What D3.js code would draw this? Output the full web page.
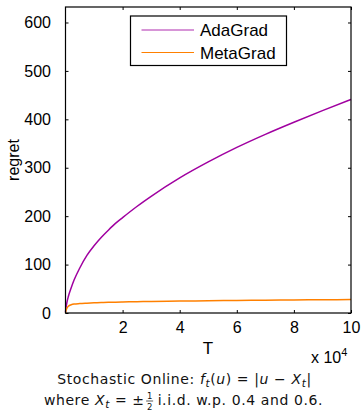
<!DOCTYPE html>
<html><head><meta charset="utf-8">
<script src="https://cdn.jsdelivr.net/npm/d3@7"></script>
<style>body{margin:0;background:#fff} svg{display:block}</style>
</head><body>
<script>
const T = [0, 200, 500, 1000, 2000, 3000, 5000, 7500, 10000, 12500, 15000, 17500, 20000, 25000, 30000, 40000, 50000, 60000, 70000, 80000, 90000, 100000];
const adaGrad = [2, 12, 22, 34, 52, 68, 93, 119, 139, 156, 171, 185, 197, 220, 241, 279, 312, 342, 369, 394, 418, 441];
const metaGrad = [0, 6, 10, 14, 17, 18.5, 19.5, 20.3, 21, 21.5, 22, 22.4, 22.7, 23.3, 23.8, 24.6, 25.3, 25.9, 26.4, 26.9, 27.3, 27.7];
const seriesNames = ["AdaGrad", "MetaGrad"];
const seriesColors = ["#a000a0", "#ff8000"];
const xTicks = [20000, 40000, 60000, 80000, 100000];
const yTicks = [0, 100, 200, 300, 400, 500, 600];

const W = 362, H = 412;
const svg = d3.select("body").append("svg").attr("width", W).attr("height", H);
const font = "'Liberation Sans', Arial, sans-serif";

const x = d3.scaleLinear().domain([0, 100000]).range([65.5, 351]);
const y = d3.scaleLinear().domain([0, 632]).range([313, 7]);

// lines
const series = [adaGrad, metaGrad];
const line = d3.line().x((d, i) => x(T[i])).y(d => y(d)).curve(d3.curveMonotoneX);
series.forEach((s, k) => {
  svg.append("path").datum(s).attr("d", line)
    .attr("fill", "none").attr("stroke", seriesColors[k]).attr("stroke-width", 1.5);
});

// axes
function styleAxis(g) {
  g.select(".domain").remove();
  g.selectAll(".tick line").attr("stroke", "#000");
  g.selectAll("text").attr("font-family", font).attr("font-size", 16).attr("fill", "#000");
}
svg.append("g").attr("transform", `translate(0,${y(0)})`)
  .call(d3.axisBottom(x).tickValues(xTicks).tickSize(-3).tickPadding(9).tickFormat(d => d / 1e4))
  .call(styleAxis);
svg.append("g").attr("transform", `translate(0,${y.range()[1]})`)
  .call(d3.axisTop(x).tickValues(xTicks).tickSize(-3).tickFormat(""))
  .call(styleAxis);
svg.append("g").attr("transform", `translate(${x(0)},0)`)
  .call(d3.axisLeft(y).tickValues(yTicks).tickSize(-3).tickPadding(14.5))
  .call(styleAxis);
svg.append("g").attr("transform", `translate(${x.range()[1]},0)`)
  .call(d3.axisRight(y).tickValues(yTicks).tickSize(-3).tickFormat(""))
  .call(styleAxis);

svg.append("rect").attr("x", x.range()[0]).attr("y", y.range()[1])
  .attr("width", x.range()[1] - x.range()[0]).attr("height", y.range()[0] - y.range()[1])
  .attr("fill", "none").attr("stroke", "#000").attr("stroke-width", 1.2);

// axis labels
svg.append("text").attr("x", 208).attr("y", 354).attr("text-anchor", "middle")
  .attr("font-family", font).attr("font-size", 17).text("T");
svg.append("text").attr("transform", `translate(19,${(y.range()[0] + y.range()[1]) / 2}) rotate(-90)`)
  .attr("text-anchor", "middle").attr("font-family", font).attr("font-size", 16).text("regret");
const ex = svg.append("text").attr("x", 311).attr("y", 363).attr("font-family", font).attr("font-size", 16);
ex.append("tspan").text("x 10");
ex.append("tspan").attr("dy", -7).attr("font-size", 11).text("4");

// legend
const lg = svg.append("g");
lg.append("rect").attr("x", 130.5).attr("y", 16).attr("width", 156).attr("height", 49.5)
  .attr("fill", "#fff").attr("stroke", "#000").attr("stroke-width", 1.2);
seriesNames.forEach((n, k) => {
  const yy = 30 + k * 22.5;
  lg.append("line").attr("x1", 141.5).attr("x2", 194).attr("y1", yy).attr("y2", yy)
    .attr("stroke", seriesColors[k]).attr("stroke-width", k === 0 ? 1.5 : 1.2)
    .attr("opacity", k === 0 ? 0.55 : 1);
  lg.append("text").attr("x", 200).attr("y", yy + 6).attr("font-family", font)
    .attr("font-size", 17).text(n);
});

// caption
const cfont = "'DejaVu Sans', sans-serif";
const cs = 14, ss = 10.5, ls = 0.6;
const c1 = svg.append("text").attr("x", 184.5).attr("y", 384).attr("text-anchor", "middle")
  .attr("font-family", cfont).attr("font-size", cs).attr("letter-spacing", ls).attr("fill", "#111");
c1.append("tspan").text("Stochastic Online: ");
c1.append("tspan").attr("font-style", "italic").text("f");
c1.append("tspan").attr("font-style", "italic").attr("font-size", ss).attr("dy", 3).text("t");
c1.append("tspan").attr("dy", -3).text("(");
c1.append("tspan").attr("font-style", "italic").text("u");
c1.append("tspan").text(") = |");
c1.append("tspan").attr("font-style", "italic").text("u");
c1.append("tspan").text(" − ");
c1.append("tspan").attr("font-style", "italic").text("X");
c1.append("tspan").attr("font-style", "italic").attr("font-size", ss).attr("dy", 3).text("t");
c1.append("tspan").attr("dy", -3).text("|");

const c2 = svg.append("g");
const t2a = c2.append("text").attr("x", 0).attr("y", 405).attr("font-family", cfont).attr("font-size", cs).attr("letter-spacing", ls).attr("fill", "#111");
t2a.append("tspan").text("where ");
t2a.append("tspan").attr("font-style", "italic").text("X");
t2a.append("tspan").attr("font-style", "italic").attr("font-size", ss).attr("dy", 3).text("t");
t2a.append("tspan").attr("dy", -3).text(" = ±");
const wA = t2a.node().getComputedTextLength();
const fx = wA + 5;
c2.append("text").attr("x", fx).attr("y", 399).attr("text-anchor", "middle").attr("font-family", cfont).attr("font-size", 8.5).attr("fill", "#111").text("1");
c2.append("line").attr("x1", fx - 3.5).attr("x2", fx + 3.5).attr("y1", 401).attr("y2", 401).attr("stroke", "#111").attr("stroke-width", 0.7);
c2.append("text").attr("x", fx).attr("y", 409.5).attr("text-anchor", "middle").attr("font-family", cfont).attr("font-size", 8.5).attr("fill", "#111").text("2");
const t2b = c2.append("text").attr("x", fx + 8).attr("y", 405).attr("font-family", cfont).attr("font-size", cs).attr("letter-spacing", ls).attr("fill", "#111")
  .text("i.i.d. w.p. 0.4 and 0.6.");
const total = fx + 8 + t2b.node().getComputedTextLength();
c2.attr("transform", `translate(${183.5 - total / 2},0)`);
</script>
</body></html>
